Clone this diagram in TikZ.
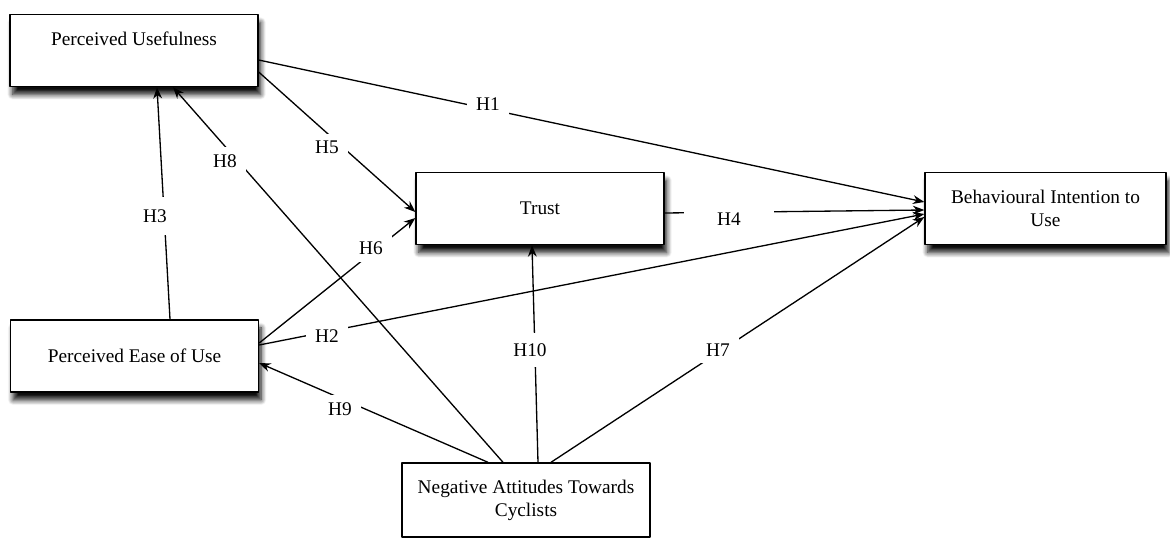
\documentclass[tikz,border=0pt]{standalone}
\usepackage{fontspec}
\setmainfont{Liberation Serif}
\usetikzlibrary{arrows.meta,calc,shadows.blur}

\begin{document}
\begin{tikzpicture}[x=0.02cm, y=-0.02cm, line join=round,
    box/.style={draw, thick, fill=white, minimum width=4.96cm, minimum height=1.44cm,
        align=center, font=\fontsize{11}{13}\selectfont,
        blur shadow={shadow xshift=1.5pt, shadow yshift=-4.5pt, shadow blur steps=8, shadow blur radius=3pt, shadow opacity=95}},
    link/.style={-{Stealth[length=6.5pt,width=5pt]}, line width=0.75pt},
    hyp/.style={fill=white, inner xsep=5pt, inner ysep=4pt, font=\fontsize{11}{13}\selectfont}]

    \useasboundingbox (0,0) rectangle (1170,538);

    % --- Constructs ---
    \node[box, text depth=13pt] (pu) at (134,50.5) {Perceived Usefulness};
    \node[box] (trust) at (540,208.5) {Trust};
    \node[box, minimum width=4.82cm] (bi) at (1045.5,208.5) {Behavioural Intention to\\Use};
    \node[box] (peu) at (134.5,356) {Perceived Ease of Use};
    \node[box, minimum height=1.48cm, blur shadow={shadow opacity=0}] (nac) at (526,500) {Negative Attitudes Towards\\Cyclists};

    % --- Hypothesised paths ---
    \draw[link] ($(pu.east)+(0,9.5)$) -- ($(bi.west)+(0,-6.5)$);
    \draw[link] ($(pu.east)+(0,21.5)$) -- ($(trust.west)+(0,3.5)$);
    \draw[link] ($(peu.north)+(35.5,0)$) -- ($(pu.south)+(23,0)$);
    \draw[link] ($(trust.east)+(0,4.5)$) -- ($(bi.west)+(0,1.5)$);
    \draw[link] ($(peu.east)+(0,-11)$) -- ($(bi.west)+(0,5.5)$);
    \draw[link] ($(peu.east)+(0,-13)$) -- ($(trust.west)+(0,9.5)$);
    \draw[link] ($(nac.north)+(25,0)$) -- ($(bi.west)+(0,8.5)$);
    \draw[link] ($(nac.north)+(-23,0)$) -- ($(pu.south)+(39,0)$);
    \draw[link] ($(nac.north)+(-38,0)$) -- ($(peu.east)+(0,7)$);
    \draw[link] ($(nac.north)+(12,0)$) -- ($(trust.south)+(-8,0)$);

    % --- Labels ---
    \node[hyp] (h1) at (488,104) {H1};
    \node[hyp] (h2) at (327,336) {H2};
    \node[hyp, inner ysep=7pt] (h3) at (155,216) {H3};
    \node[hyp, inner xsep=19pt] (h4) at (729,219) {H4};
    \node[hyp] (h5) at (327,147) {H5};
    \node[hyp] (h6) at (371,248) {H6};
    \node[hyp] (h7) at (718,350) {H7};
    \node[hyp] (h8) at (225,161) {H8};
    \node[hyp] (h9) at (340,409) {H9};
    \node[hyp, inner ysep=6pt] (h10) at (530,350) {H10};

\end{tikzpicture}
\end{document}
